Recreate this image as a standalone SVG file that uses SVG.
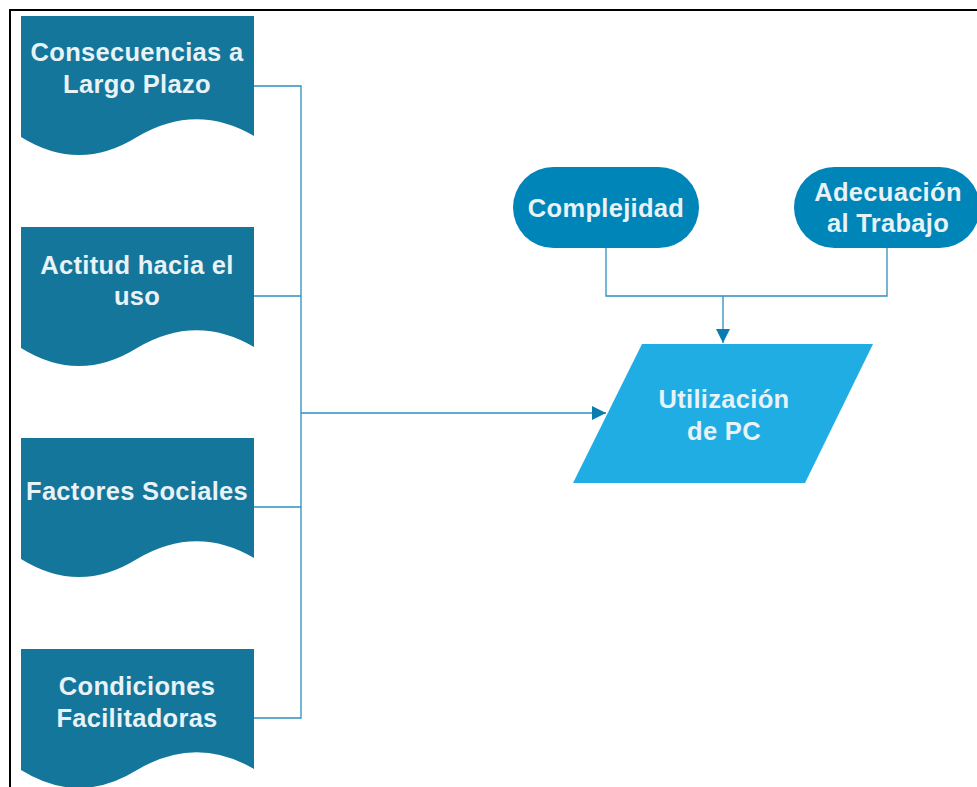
<svg xmlns="http://www.w3.org/2000/svg" width="977" height="787" viewBox="0 0 977 787">
<style>
.doc{fill:#14769A}
.term{fill:#0085B8}
.para{fill:#1FADE3}
.t{font-family:"Liberation Sans",Arial,sans-serif;font-weight:bold;font-size:25.5px;letter-spacing:0.3px;fill:#E8F2F7;text-anchor:middle}
.c{fill:none;stroke:#2B8FC0;stroke-width:1.3}
</style>
<defs>
<marker id="ah" viewBox="0 0 10 10" refX="10" refY="5" markerWidth="14" markerHeight="14" markerUnits="userSpaceOnUse" orient="auto">
<path d="M0,0 L10,5 L0,10 Z" fill="#0A7DB0"/>
</marker>
<path id="docshape" d="M0,0 H233 V120 Q175,86 116,121 Q58,157 0,121 Z"/>
</defs>
<rect width="977" height="787" fill="#fff"/>
<path d="M10,787 V10 H977" fill="none" stroke="#000" stroke-width="2"/>
<g id="connectors">
<path class="c" d="M254,86 H301 V718 H254"/>
<path class="c" d="M254,296 H301"/>
<path class="c" d="M254,507 H301"/>
<path class="c" d="M301,413 H606" marker-end="url(#ah)"/>
<path class="c" d="M606,248 V296 H887 V248"/>
<path class="c" d="M723,296 V343" marker-end="url(#ah)"/>
</g>
<g id="n1"><use href="#docshape" class="doc" x="21" y="16"/>
<text class="t" x="137" y="61">Consecuencias a</text><text class="t" x="137" y="93">Largo Plazo</text></g>
<g id="n2"><use href="#docshape" class="doc" x="21" y="227"/>
<text class="t" x="137" y="274">Actitud hacia el</text><text class="t" x="137" y="305">uso</text></g>
<g id="n3"><use href="#docshape" class="doc" x="21" y="438"/>
<text class="t" x="137" y="500">Factores Sociales</text></g>
<g id="n4"><use href="#docshape" class="doc" x="21" y="649"/>
<text class="t" x="137" y="695">Condiciones</text><text class="t" x="137" y="727">Facilitadoras</text></g>
<g id="n5"><rect class="term" x="513" y="167" width="186" height="81" rx="40.5"/>
<text class="t" x="606" y="217">Complejidad</text></g>
<g id="n6"><rect class="term" x="794" y="167" width="186" height="81" rx="40.5"/>
<text class="t" x="888" y="201">Adecuación</text><text class="t" x="888" y="232">al Trabajo</text></g>
<g id="n7"><path class="para" d="M642,344 H873 L805,483 H573 Z"/>
<text class="t" x="724" y="408">Utilización</text><text class="t" x="724" y="440">de PC</text></g>
</svg>
